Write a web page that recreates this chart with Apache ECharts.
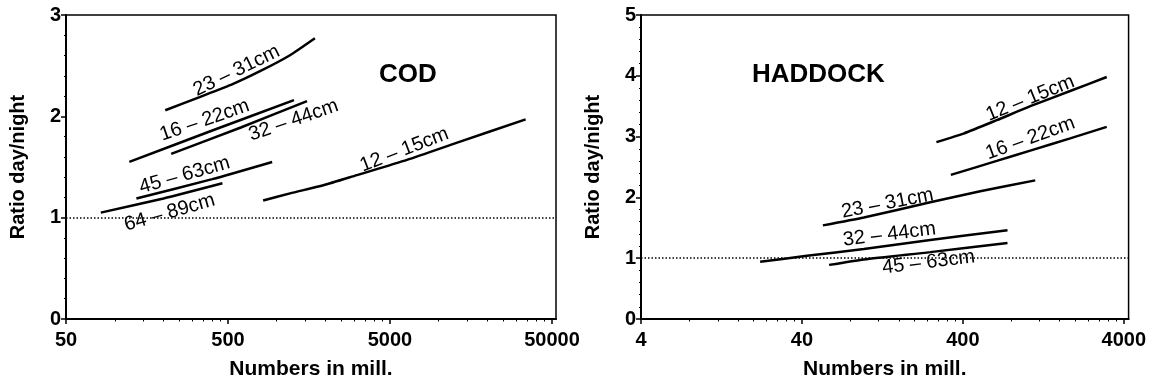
<!DOCTYPE html>
<html>
<head>
<meta charset="utf-8">
<script src="https://cdn.jsdelivr.net/npm/echarts@6/dist/echarts.min.js"></script>
<style>
    html, body { margin: 0; padding: 0; background: #fff; }
    #main { width: 1149px; height: 385px; }
</style>
</head>
<body>
<div id="main"></div>
<script>
// COD curves: numbers in mill. (N) and ratio day/night (R)
const cod1215N = [824, 1208, 1941, 3125, 6370, 13000, 34400]
const cod1215R = [1.17, 1.24, 1.32, 1.42, 1.57, 1.74, 1.97]
const cod1622N = [123, 400, 1277]
const cod1622R = [1.55, 1.86, 2.16]
const cod2331N = [205, 334, 538, 800, 1200, 1720]
const cod2331R = [2.06, 2.19, 2.32, 2.45, 2.60, 2.77]
const cod3244N = [223, 600, 1538]
const cod3244R = [1.63, 1.89, 2.15]
const cod4563N = [136, 400, 937]
const cod4563R = [1.19, 1.38, 1.55]
const cod6489N = [82, 200, 462]
const cod6489R = [1.05, 1.19, 1.34]

// HADDOCK curves
const had1215N = [274, 404, 650, 1050, 1858, 3135]
const had1215R = [2.91, 3.05, 3.27, 3.50, 3.75, 3.98]
const had1622N = [337, 650, 1050, 1858, 3135]
const had1622R = [2.37, 2.60, 2.77, 2.97, 3.16]
const had2331N = [54, 97, 251, 513, 1127]
const had2331R = [1.54, 1.67, 1.92, 2.10, 2.28]
const had3244N = [22, 43, 97, 251, 758]
const had3244R = [0.94, 1.04, 1.15, 1.30, 1.46]
const had4563N = [59, 97, 251, 758]
const had4563R = [0.89, 0.98, 1.10, 1.25]

// tick labels
const codTicks = [50, 500, 5000, 50000]
const hadTicks = [4, 40, 400, 4000]
const codYMax = 3
const hadYMax = 5

// curve labels: text, N, ratio, angle
const codLabels = [
    ['23 – 31cm', 565, 2.45, 26],
    ['16 – 22cm', 359, 1.96, 19],
    ['32 – 44cm', 1270, 1.96, 19],
    ['45 – 63cm', 270, 1.42, 16],
    ['64 – 89cm', 218, 1.05, 16],
    ['12 – 15cm', 6135, 1.67, 21]
]
const hadLabels = [
    ['12 – 15cm', 1050, 3.63, 22],
    ['16 – 22cm', 1050, 2.97, 20],
    ['23 – 31cm', 136, 1.90, 11],
    ['32 – 44cm', 140, 1.39, 7],
    ['45 – 63cm', 245, 0.93, 7]
]

const lg = v => Math.log10(v)
const font = 'Liberation Sans'

function minorTicks (ticks) {
    let out = []
    for (let i = 0; i < ticks.length - 1; i++) {
        for (let k = 2; k <= 9; k++) out.push(lg(ticks[i] * k))
    }
    return out
}

function curve (N, R, grid, withRef) {
    let s = {
        type: 'line',
        xAxisIndex: grid * 2,
        yAxisIndex: grid,
        smooth: 0.2,
        symbol: 'none',
        silent: true,
        lineStyle: { color: '#000', width: 2.5 },
        data: N.map((n, i) => [lg(n), R[i]])
    }
    if (withRef) {
        s.markLine = {
            silent: true,
            symbol: 'none',
            label: { show: false },
            lineStyle: { color: '#000', width: 1.5, type: [1.5, 2] },
            data: [{ yAxis: 1 }]
        }
    }
    return s
}

function labelSeries (labels, grid) {
    return {
        type: 'scatter',
        xAxisIndex: grid * 2,
        yAxisIndex: grid,
        symbolSize: 1,
        silent: true,
        itemStyle: { color: 'rgba(255,255,255,0)' },
        label: {
            show: true,
            position: 'inside',
            color: '#000',
            opacity: 1,
            textBorderWidth: 0,
            fontFamily: font,
            fontSize: 20
        },
        data: labels.map(l => ({
            value: [lg(l[1]), l[2]],
            label: { formatter: l[0], rotate: l[3] }
        }))
    }
}

function xAxes (ticks, grid, extra) {
    const major = ticks.map(lg)
    return [{
        type: 'value',
        gridIndex: grid,
        position: 'bottom',
        min: lg(ticks[0]),
        max: lg(ticks[ticks.length - 1]) + extra,
        axisLine: { lineStyle: { color: '#000', width: 2 } },
        axisTick: { customValues: major, length: 5, lineStyle: { color: '#000', width: 1.5 } },
        axisLabel: {
            customValues: major,
            formatter: v => String(Math.round(Math.pow(10, v))),
            margin: 11,
            color: '#000',
            fontFamily: font,
            fontWeight: 'bold',
            fontSize: 20
        },
        splitLine: { show: false },
        name: 'Numbers in mill.',
        nameLocation: 'middle',
        nameGap: 40,
        nameTextStyle: { color: '#000', fontFamily: font, fontWeight: 'bold', fontSize: 21 }
    }, {
        type: 'value',
        gridIndex: grid,
        position: 'bottom',
        min: lg(ticks[0]),
        max: lg(ticks[ticks.length - 1]) + extra,
        axisLine: { show: false },
        axisTick: { customValues: minorTicks(ticks), length: 2.5, lineStyle: { color: '#000', width: 1 } },
        axisLabel: { show: false },
        splitLine: { show: false }
    }]
}

function yAxis (max, grid) {
    return {
        type: 'value',
        gridIndex: grid,
        min: 0,
        max: max,
        interval: 1,
        axisLine: { show: true, lineStyle: { color: '#000', width: 2 } },
        axisTick: { show: true, length: 5, lineStyle: { color: '#000', width: 1.5 } },
        minorTick: { show: true, splitNumber: 5, length: 2, lineStyle: { color: '#000', width: 1 } },
        axisLabel: {
            margin: 5,
            color: '#000',
            fontFamily: font,
            fontWeight: 'bold',
            fontSize: 20
        },
        splitLine: { show: false },
        name: 'Ratio day/night',
        nameLocation: 'middle',
        nameGap: 38,
        nameTextStyle: { color: '#000', fontFamily: font, fontWeight: 'bold', fontSize: 20 }
    }
}

const titleStyle = { color: '#000', fontFamily: font, fontWeight: 'bold', fontSize: 26 }

const option = {
    animation: false,
    backgroundColor: '#fff',
    title: [
        { text: 'COD', left: 374, top: 57, textStyle: titleStyle },
        { text: 'HADDOCK', left: 747, top: 57, textStyle: titleStyle }
    ],
    grid: [
        { left: 66, top: 15, width: 490, height: 305, show: true, borderColor: '#000', borderWidth: 1.5, backgroundColor: 'transparent' },
        { left: 641, top: 15, width: 489, height: 305, show: true, borderColor: '#000', borderWidth: 1.5, backgroundColor: 'transparent' }
    ],
    xAxis: [].concat(xAxes(codTicks, 0, 0.025), xAxes(hadTicks, 1, 0.03)),
    yAxis: [yAxis(codYMax, 0), yAxis(hadYMax, 1)],
    series: [
        curve(cod1215N, cod1215R, 0, true),
        curve(cod1622N, cod1622R, 0),
        curve(cod2331N, cod2331R, 0),
        curve(cod3244N, cod3244R, 0),
        curve(cod4563N, cod4563R, 0),
        curve(cod6489N, cod6489R, 0),
        labelSeries(codLabels, 0),
        curve(had1215N, had1215R, 1, true),
        curve(had1622N, had1622R, 1),
        curve(had2331N, had2331R, 1),
        curve(had3244N, had3244R, 1),
        curve(had4563N, had4563R, 1),
        labelSeries(hadLabels, 1)
    ]
}

const chart = echarts.init(document.getElementById('main'))
chart.setOption(option)
</script>
</body>
</html>
